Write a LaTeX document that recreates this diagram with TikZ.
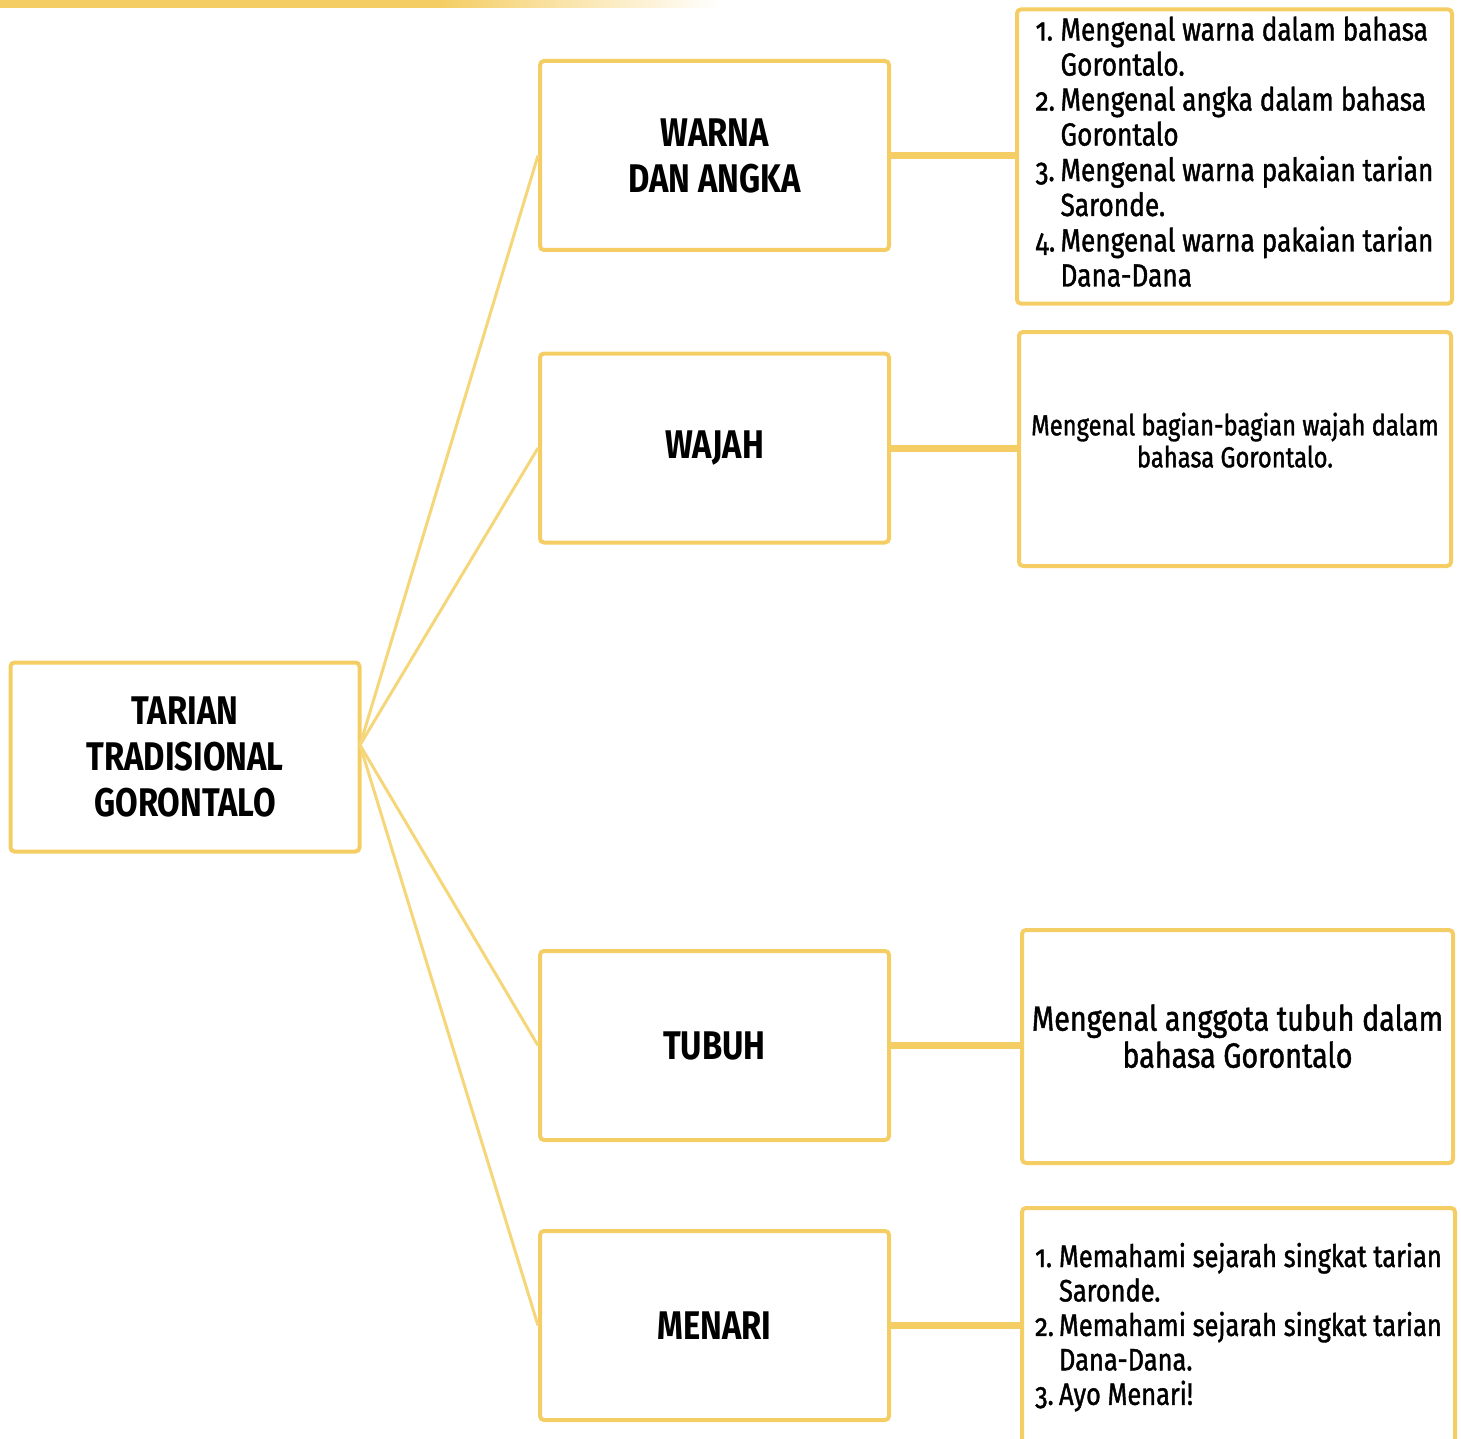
\documentclass[tikz,border=0pt]{standalone}
\usepackage{fontspec}
\setmainfont{Fira Sans}[FakeStretch=0.82,Numbers=OldStyle]
\newfontfamily\detailfont{Fira Sans}[FakeStretch=0.82,Numbers=OldStyle,FakeBold=1.2]

\definecolor{gold}{RGB}{244,206,100}
\definecolor{paleGold}{RGB}{246,214,122}

\tikzset{
  topic/.style={draw=gold, line width=2pt, rounded corners=2pt, minimum width=174.5pt, minimum height=94.5pt, align=center, font=\fontsize{20}{23}\selectfont\bfseries},
  detail/.style={draw=gold, line width=2pt, rounded corners=2pt, align=center},
  spoke/.style={paleGold, line width=1.5pt},
  stem/.style={gold, line width=3.5pt},
}

\begin{document}
\begin{tikzpicture}[x=0.5pt,y=-0.5pt]
\clip (0,0) rectangle (1461,1439);

% fading bar on top
\fill[gold] (0,0) rectangle (440,8);
\shade[left color=gold, right color=white] (440,0) rectangle (720,8);

% main topic
\node (root) at (185,757) [topic] {TARIAN\\TRADISIONAL\\GORONTALO};
\coordinate (hub) at (360,745);

% sub topics
\node (warna) at (714.5,155.5) [topic] {WARNA\\DAN ANGKA};
\node (wajah) at (714.5,448) [topic] {WAJAH};
\node (tubuh) at (714.5,1045.5) [topic] {TUBUH};
\node (menari) at (714.5,1325.5) [topic] {MENARI};

% details
\node (dwarna) at (1234.5,156.5) [detail, minimum width=217.5pt, minimum height=146.5pt, font=\detailfont\fontsize{16}{17.5}\selectfont] {%
\begin{tabular}{@{}l@{\,}l@{}}
1. & Mengenal warna dalam bahasa\\
   & Gorontalo.\\
2. & Mengenal angka dalam bahasa\\
   & Gorontalo\\
3. & Mengenal warna pakaian tarian\\
   & Saronde.\\
4. & Mengenal warna pakaian tarian\\
   & Dana-Dana
\end{tabular}};
\node (dwajah) at (1235,449) [detail, minimum width=216pt, minimum height=117pt, font=\detailfont\fontsize{14.5}{16}\selectfont] {Mengenal bagian-bagian wajah dalam\\bahasa Gorontalo.\\[-7pt]};
\node (dtubuh) at (1237.5,1046.5) [detail, minimum width=215.5pt, minimum height=116.5pt, font=\detailfont\fontsize{17.5}{18.5}\selectfont] {Mengenal anggota tubuh dalam\\bahasa Gorontalo\\[-8pt]};
\node (dmenari) at (1238.5,1329) [detail, minimum width=216.5pt, minimum height=121pt, font=\detailfont\fontsize{15.5}{17.2}\selectfont] {%
\begin{tabular}{@{}l@{\,}l@{}}
1. & Memahami sejarah singkat tarian\\
   & Saronde.\\
2. & Memahami sejarah singkat tarian\\
   & Dana-Dana.\\
3. & Ayo Menari!
\end{tabular}};

% spokes from main topic
\draw[spoke] (hub) -- (warna.west);
\draw[spoke] (hub) -- (wajah.west);
\draw[spoke] (hub) -- (tubuh.west);
\draw[spoke] (hub) -- (menari.west);

% stems to details
\draw[stem] (warna.east) -- (warna.east -| dwarna.west);
\draw[stem] (wajah.east) -- (wajah.east -| dwajah.west);
\draw[stem] (tubuh.east) -- (tubuh.east -| dtubuh.west);
\draw[stem] (menari.east) -- (menari.east -| dmenari.west);

\end{tikzpicture}
\end{document}
